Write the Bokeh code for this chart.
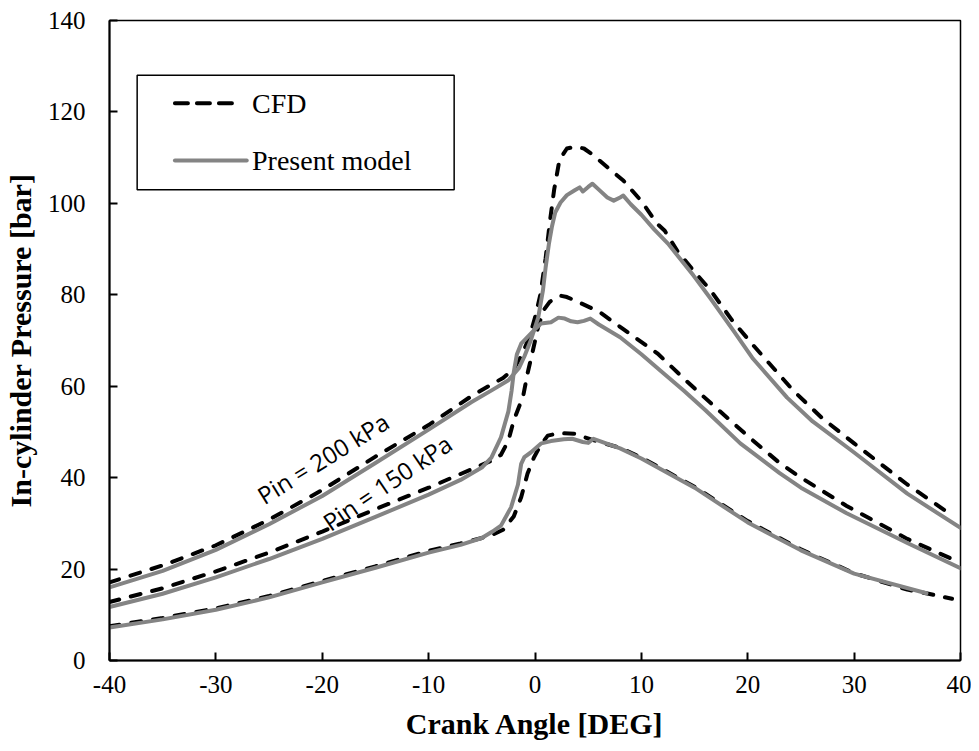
from bokeh.plotting import figure
from bokeh.models import FixedTicker, Range1d
from bokeh.core.properties import value
from bokeh.embed import file_html
from bokeh.resources import INLINE

# ---------------- data ----------------
XTICKS = [-40, -30, -20, -10, 0, 10, 20, 30, 40]
YTICKS = [0, 20, 40, 60, 80, 100, 120, 140]

# Pin = 200 kPa
x200_cfd = [-40, -35, -30, -25, -20, -15, -10, -6, -4, -3, -2, -1.2, -0.5, 0, 0.5, 1.0, 1.4, 1.8, 2.3, 3.0,
            3.8, 4.6, 5.5, 7.0, 8.3, 10, 11.5, 12.2, 12.6, 13.4, 15, 16.5, 18.5, 20.5, 24.3, 27, 30, 35, 39.3]
y200_cfd = [17.1, 20.8, 25.2, 30.8, 37.3, 44.6, 51.5, 57.8, 60.5, 61.8, 63.8, 67, 71, 75, 80, 88, 96, 103, 109.5, 112,
            112.4, 112, 110.5, 107.5, 105, 100.5, 95.5, 94, 92.5, 89.5, 85, 81, 74.5, 69, 59, 53, 47.5, 38.5, 31.6]
x200_mod = [-40, -35, -30, -25, -20, -15, -10, -6, -4, -2.5, -1.5, -1.0, -0.4, 0.3, 0.75, 1.0, 1.3, 1.6, 1.9, 2.4,
            3.0, 3.7, 4.2, 4.5, 5.0, 5.4, 6.0, 6.8, 7.4, 8.0, 8.3, 9, 10, 11.2, 12.5, 14.9, 16.5, 18.7, 20.5, 23.7,
            26.1, 30, 35, 40]
y200_mod = [16.0, 19.6, 24.2, 29.8, 36.0, 43.2, 50.5, 56.5, 59.2, 61.3, 64.0, 66.5, 70, 75, 81, 86, 91, 95, 98, 100.2,
            101.8, 102.8, 103.5, 102.6, 103.6, 104.3, 103, 101.3, 100.6, 101.3, 101.7, 99.8, 97.5, 94.3, 91.2, 84.2,
            79.2, 72, 66, 57.5, 52.3, 45.5, 36.5, 29.0]

# Pin = 150 kPa
x150_cfd = [-40, -35, -30, -25, -20, -15, -10, -7, -5, -3.8, -3.2, -2.5, -2.0, -1.5, -1.1, -0.7, -0.2, 0.3, 0.8, 1.4,
            2.4, 3.0, 3.7, 5.2, 6.2, 8.3, 11.5, 14.3, 17, 20.2, 23, 25, 29.3, 35, 39.5]
y150_cfd = [12.8, 15.8, 19.5, 23.6, 28.2, 33.1, 37.8, 40.8, 42.8, 44, 45, 48.1, 52.5, 55.5, 58, 62.8, 67.8, 73, 76.6,
            78.5, 79.8, 79.5, 78.8, 77.2, 76, 72.5, 67.2, 61, 55.3, 48.7, 43.2, 40, 33.8, 26.6, 21.9]
x150_mod = [-40, -35, -30, -25, -20, -15, -10, -7, -5, -4.1, -3.2, -2.5, -2.2, -2.0, -1.7, -1.3, -0.6, -0.1, 0.56, 1.5,
            2.2, 2.8, 3.4, 4.0, 4.6, 5.2, 6.0, 8.0, 10, 11.8, 14, 16, 19.3, 23, 25, 29.3, 35, 40]
y150_mod = [11.7, 14.6, 18.2, 22.2, 26.6, 31.4, 36.3, 39.5, 42.2, 44.4, 48.8, 54.5, 59, 63, 67, 69.3, 71, 72.2, 73.7,
            74, 75, 74.8, 74.2, 74, 74.3, 74.8, 73.5, 70.7, 67, 63.4, 59, 54.8, 47.5, 41, 37.8, 32.2, 25.7, 20.2]

# Pin = 100 kPa
x100_cfd = [-40, -35, -30, -25, -20, -15, -10, -7, -5, -4, -3, -2, -1.3, -0.7, -0.1, 0.5, 1.2, 2.0, 2.7, 3.7, 5.2,
            8, 10, 15, 20, 25, 30, 35, 37, 39.2]
y100_cfd = [7.5, 9.3, 11.4, 14.1, 17.4, 20.6, 24.0, 25.6, 26.8, 27.5, 28.6, 31.5, 35.7, 40.9, 44.4, 47, 49.2, 49.6,
            49.7, 49.6, 48.4, 46.5, 44.4, 38, 30.5, 24.3, 19.1, 15.5, 14.6, 13.5]
x100_mod = [-40, -35, -30, -25, -20, -15, -10, -7, -5, -4, -3.2, -2.25, -1.6, -1.3, -1.0, -0.4, 0.6, 1.5, 2.7, 3.5,
            4.5, 5.0, 5.5, 8, 10, 15, 20, 25, 30, 36.8]
y100_mod = [7.2, 9.0, 11.1, 13.8, 17.1, 20.3, 23.6, 25.3, 26.8, 28.2, 29.5, 33.5, 38.5, 43, 44.5, 45.5, 47.5, 48, 48.4,
            48.5, 47.8, 47.6, 48.5, 46.4, 44.2, 37.8, 30.2, 24.1, 19, 14.7]

SERIES_NAMES = ["CFD", "Present model"]
ANNOT_TEXT = ["Pin = 200 kPa", "Pin = 150 kPa"]

# ---------------- styling / layout ----------------
BLACK = "#000000"
GREY = "#848484"
SERIF = "Liberation Serif"

p = figure(width=971, height=743,
           x_range=Range1d(-40, 40), y_range=Range1d(0, 140),
           output_backend="svg", toolbar_location=None,
           min_border_left=107, min_border_right=11, min_border_top=20, min_border_bottom=83)
p.xgrid.visible = False
p.ygrid.visible = False
p.outline_line_color = BLACK
p.outline_line_width = 1.5
p.background_fill_color = "white"
p.border_fill_color = "white"

for ax, ticks in ((p.xaxis, XTICKS), (p.yaxis, YTICKS)):
    ax.ticker = FixedTicker(ticks=ticks)
    ax.major_label_overrides = {t: str(t) for t in ticks}
    ax.major_tick_in = 8
    ax.major_tick_out = 0
    ax.minor_tick_in = 0
    ax.minor_tick_out = 0
    ax.axis_line_width = 2
    ax.axis_line_color = BLACK
    ax.major_tick_line_width = 2
    ax.major_tick_line_color = BLACK
    ax.major_label_text_font = SERIF
    ax.major_label_text_font_size = "25px"
    ax.major_label_text_color = BLACK
    ax.axis_label_text_font = SERIF
    ax.axis_label_text_font_style = "bold"
    ax.axis_label_text_font_size = "30px"
    ax.axis_label_text_color = BLACK

p.xaxis.axis_label = "Crank Angle [DEG]"
p.xaxis.major_label_standoff = 15
p.xaxis.axis_label_standoff = 11
p.yaxis.axis_label = "In-cylinder Pressure [bar]"
p.yaxis.major_label_standoff = 24
p.yaxis.axis_label_standoff = 8

dash_kw = dict(line_color=BLACK, line_width=4, line_dash="10 12", line_cap="round", line_join="round")
solid_kw = dict(line_color=GREY, line_width=4, line_cap="round", line_join="round")

for xs, ys in ((x200_cfd, y200_cfd), (x150_cfd, y150_cfd), (x100_cfd, y100_cfd)):
    p.line(xs, ys, **dash_kw)
for xs, ys in ((x200_mod, y200_mod), (x150_mod, y150_mod), (x100_mod, y100_mod)):
    p.line(xs, ys, **solid_kw)

# curve annotations
p.text(x=[-25.9], y=[35.7], text=[ANNOT_TEXT[0]], angle=0.553,
       text_font=value("Open Sans"), text_font_size="24px", text_color=BLACK,
       text_baseline="alphabetic", text_align="left")
p.text(x=[-19.7], y=[29.8], text=[ANNOT_TEXT[1]], angle=0.595,
       text_font=value("Open Sans"), text_font_size="24px", text_color=BLACK,
       text_baseline="alphabetic", text_align="left")

# legend (drawn as a boxed key in the upper-left corner)
LEG_L, LEG_R, LEG_B, LEG_T = -37.4, -7.6, 103.0, 128.0
LEG_X0, LEG_X1 = -33.85, -27.4
LEG_Y = [121.9, 109.4]
LEG_TX = -26.6
p.quad(left=[LEG_L], right=[LEG_R], bottom=[LEG_B], top=[LEG_T],
       fill_color="white", line_color=BLACK, line_width=1.5)
p.line([LEG_X0, LEG_X1 - 0.4], [LEG_Y[0], LEG_Y[0]], line_color=BLACK, line_width=4,
       line_dash="13 9", line_cap="round")
p.line([LEG_X0, LEG_X1 + 0.3], [LEG_Y[1], LEG_Y[1]], **solid_kw)
p.text(x=[LEG_TX, LEG_TX], y=LEG_Y, text=SERIES_NAMES,
       text_font=value(SERIF), text_font_size="28px", text_color=BLACK,
       text_baseline="middle", text_align="left")

open("out.html", "w").write(file_html(p, INLINE))
